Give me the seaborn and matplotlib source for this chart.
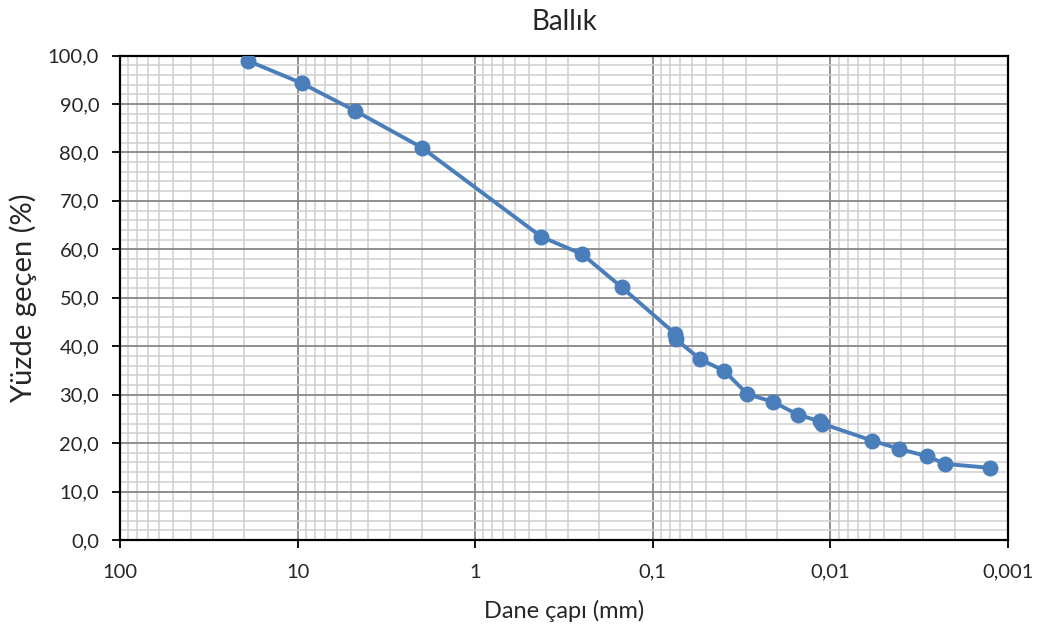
import matplotlib
matplotlib.use("Agg")
import matplotlib.pyplot as plt
import matplotlib.ticker as mticker
import seaborn as sns
import numpy as np
import pandas as pd

# Data
grain_size_mm = [19.0, 9.5, 4.75, 2.0, 0.425, 0.25, 0.15, 0.075, 0.074,
                 0.054, 0.0396, 0.0293, 0.021, 0.0153, 0.0115, 0.0111,
                 0.0058, 0.0041, 0.00286, 0.00225, 0.00127]
percent_passing = [98.9, 94.3, 88.6, 81.0, 62.6, 59.0, 52.2, 42.6, 41.4,
                   37.3, 34.9, 30.1, 28.5, 25.9, 24.5, 24.0,
                   20.5, 18.8, 17.3, 15.7, 14.9]
x_ticks = [100, 10, 1, 0.1, 0.01, 0.001]
x_tick_labels = ["100", "10", "1", "0,1", "0,01", "0,001"]
y_ticks = [0, 10, 20, 30, 40, 50, 60, 70, 80, 90, 100]

title = "Ballık"
xlabel = "Dane çapı (mm)"
ylabel = "Yüzde geçen (%)"

df = pd.DataFrame({"d": grain_size_mm, "p": percent_passing})

sns.set_style("white")
plt.rcParams['font.family'] = ['Lato', 'DejaVu Sans']

fig = plt.figure(figsize=(10.4, 6.32), dpi=100)
ax = fig.add_axes([120/1040, (632-540)/632, (1008-120)/1040, (540-55.5)/632])

line_color = "#4A7EBB"
sns.lineplot(data=df, x="d", y="p", sort=False, ax=ax, color=line_color,
             linewidth=2.8, marker="o", markersize=11.5, markeredgewidth=0,
             zorder=5)

ax.set_xscale("log")
ax.set_xlim(100, 0.001)
ax.set_ylim(0, 100)

ax.set_xticks(x_ticks)
ax.set_xticklabels(x_tick_labels)
ax.xaxis.set_minor_locator(mticker.LogLocator(base=10, subs=np.arange(2, 10)))
ax.xaxis.set_minor_formatter(mticker.NullFormatter())
ax.set_yticks(y_ticks)
ax.set_yticklabels([f"{v:.1f}".replace(".", ",") for v in y_ticks])
ax.yaxis.set_minor_locator(mticker.MultipleLocator(2))

ax.grid(which="major", color="#878787", linewidth=1.3)
ax.grid(which="minor", color="#CFCFCF", linewidth=1.1)
ax.set_axisbelow(True)

for s in ax.spines.values():
    s.set_color("black")
    s.set_linewidth(1.6)

ax.tick_params(axis="both", which="major", direction="out", length=6,
               width=1.3, color="black", labelsize=14.5)
ax.tick_params(axis="both", which="minor", length=0)
ax.tick_params(axis="x", pad=11)
ax.tick_params(axis="y", pad=9)
ax.tick_params(left=True, bottom=True)

ax.set_title(title, fontsize=20, pad=18)
ax.set_xlabel(xlabel, fontsize=17, labelpad=14)
ax.set_ylabel(ylabel, fontsize=21, labelpad=8)

fig.savefig("out.png", dpi=100)
